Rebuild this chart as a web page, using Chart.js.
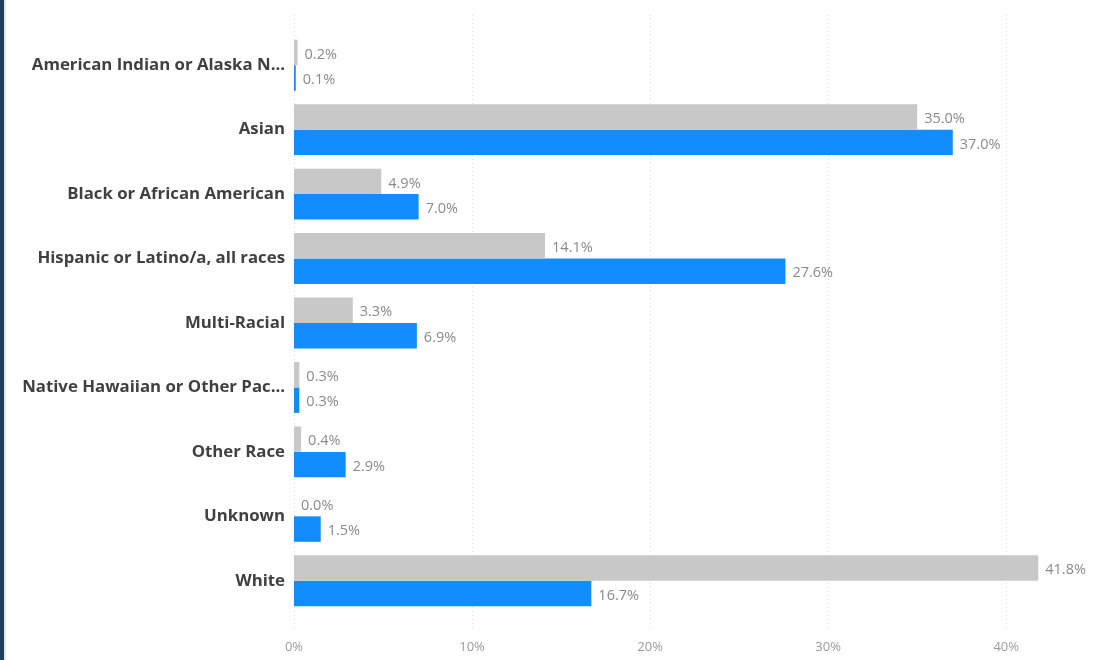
<!DOCTYPE html>
<html>
<head>
<meta charset="utf-8">
<script src="https://cdn.jsdelivr.net/npm/chart.js@4/dist/chart.umd.min.js"></script>
<style>
  html, body { margin: 0; padding: 0; background: #fff; }
  #wrap { position: relative; width: 1097px; height: 660px; overflow: hidden; }
  #bl { position: absolute; left: 0; top: 0; width: 4px; height: 660px; background: #1f3d5c; }
  #bl2 { position: absolute; left: 4px; top: 0; width: 2px; height: 660px; background: #e4e6e8; }
  canvas { position: absolute; left: 0; top: 0; }
</style>
</head>
<body>
<div id="wrap">
  <canvas id="c" width="1097" height="660"></canvas>
  <div id="bl"></div><div id="bl2"></div>
</div>
<script>
const categories = [
  "American Indian or Alaska N...",
  "Asian",
  "Black or African American",
  "Hispanic or Latino/a, all races",
  "Multi-Racial",
  "Native Hawaiian or Other Pac...",
  "Other Race",
  "Unknown",
  "White"
];
const grayValues = [0.2, 35.0, 4.9, 14.1, 3.3, 0.3, 0.4, 0.0, 41.8];
const blueValues = [0.1, 37.0, 7.0, 27.6, 6.9, 0.3, 2.9, 1.5, 16.7];
const xTickValues = [0, 10, 20, 30, 40];

const gridPlugin = {
  id: 'dotGrid',
  beforeDatasetsDraw(chart) {
    const ctx = chart.ctx, xs = chart.scales.x;
    ctx.save();
    ctx.strokeStyle = '#dcdcdc';
    ctx.lineWidth = 1;
    ctx.setLineDash([1, 3]);
    xTickValues.forEach(v => {
      const x = Math.round(xs.getPixelForValue(v)) + 0.5;
      ctx.beginPath();
      ctx.moveTo(x, 15);
      ctx.lineTo(x, 630);
      ctx.stroke();
    });
    ctx.restore();
  }
};

const labelPlugin = {
  id: 'valLabels',
  afterDatasetsDraw(chart) {
    const ctx = chart.ctx;
    ctx.save();
    ctx.font = '14.5px "Open Sans", "DejaVu Sans", sans-serif';
    ctx.fillStyle = '#8a8a8a';
    ctx.textBaseline = 'middle';
    ctx.textAlign = 'left';
    chart.data.datasets.forEach((ds, i) => {
      const meta = chart.getDatasetMeta(i);
      meta.data.forEach((bar, j) => {
        const v = ds.data[j];
        ctx.fillText(v.toFixed(1) + '%', bar.x + 7, bar.y + 2);
      });
    });
    ctx.restore();
  }
};

new Chart(document.getElementById('c'), {
  type: 'bar',
  data: {
    labels: categories,
    datasets: [
      { label: 'Gray', data: grayValues, backgroundColor: '#c8c8c8', borderWidth: 0 },
      { label: 'Blue', data: blueValues, backgroundColor: '#118dff', borderWidth: 0 }
    ]
  },
  options: {
    indexAxis: 'y',
    responsive: false,
    animation: false,
    devicePixelRatio: 1,
    layout: { padding: { top: 33, right: 0, left: 0, bottom: 0 } },
    datasets: { bar: { barPercentage: 1.0, categoryPercentage: 0.79 } },
    plugins: { legend: { display: false }, tooltip: { enabled: false } },
    scales: {
      x: {
        min: 0, max: 45.1,
        afterBuildTicks(scale) { scale.ticks = xTickValues.map(v => ({ value: v })); },
        afterFit(scale) { scale.height = 47; },
        grid: { display: false, drawTicks: false },
        border: { display: false },
        ticks: {
          padding: 26,
          color: '#9a9a9a',
          font: { family: '"Open Sans", "DejaVu Sans", sans-serif', size: 13 },
          callback: v => v + '%'
        }
      },
      y: {
        afterFit(scale) { scale.width = 294; },
        grid: { display: false, drawTicks: false },
        border: { display: false },
        ticks: {
          padding: 9,
          color: '#404040',
          font: { family: '"Open Sans", "DejaVu Sans", sans-serif', size: 16.8, weight: 'bold' }
        }
      }
    }
  },
  plugins: [gridPlugin, labelPlugin]
});
</script>
</body>
</html>
